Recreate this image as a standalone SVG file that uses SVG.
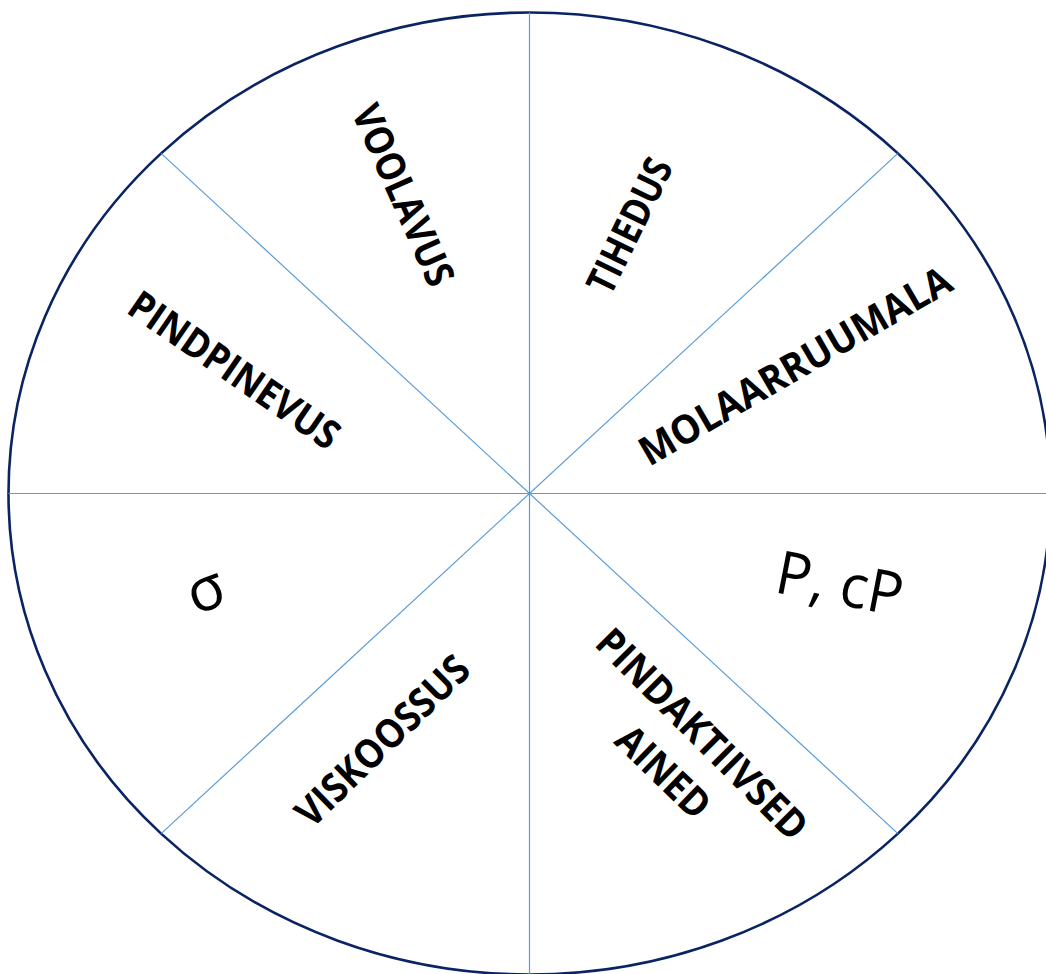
<svg xmlns="http://www.w3.org/2000/svg" width="1046" height="974" viewBox="0 0 1046 974">
<style>
.rim{fill:#ffffff;stroke:#0A2463;stroke-width:2.6}
.spoke{stroke:#5B9BD5;stroke-width:1.2;fill:none}
.lbl{font-family:"Open Sans","Liberation Sans",sans-serif;font-weight:bold;font-size:40px;fill:#000;text-anchor:middle}
.sym{font-family:"Open Sans","Liberation Sans",sans-serif;font-weight:normal;font-size:60px;fill:#000;text-anchor:middle}
</style>
<rect width="1046" height="974" fill="#ffffff"/>
<ellipse class="rim" cx="529.5" cy="493.5" rx="521" ry="481"/>
<g id="connectors">
<line class="spoke" x1="529.5" y1="12.5" x2="529.5" y2="974"/>
<line class="spoke" x1="8.5" y1="493.5" x2="1046" y2="493.5"/>
<line class="spoke" x1="161.1" y1="153.4" x2="897.9" y2="833.6"/>
<line class="spoke" x1="897.9" y1="153.4" x2="161.1" y2="833.6"/>
</g>
<g id="voolavus"><text class="lbl" transform="translate(403.5,195) rotate(66)" y="14.2" textLength="194" lengthAdjust="spacingAndGlyphs">VOOLAVUS</text></g>
<g id="tihedus"><text class="lbl" transform="translate(629.5,225.6) rotate(-64)" y="14.2" textLength="145" lengthAdjust="spacingAndGlyphs">TIHEDUS</text></g>
<g id="pindpinevus"><text class="lbl" transform="translate(234.3,370) rotate(34.5)" y="14.2" textLength="246" lengthAdjust="spacingAndGlyphs">PINDPINEVUS</text></g>
<g id="molaarruumala"><text class="lbl" transform="translate(795,365.6) rotate(-30.2)" y="14.2" textLength="354" lengthAdjust="spacingAndGlyphs">MOLAARRUUMALA</text></g>
<g id="pindaktiivsed">
<text class="lbl" transform="translate(702.4,734) rotate(45)" y="14.2" textLength="280" lengthAdjust="spacingAndGlyphs">PINDAKTIIVSED</text>
<text class="lbl" transform="translate(663.5,771.9) rotate(44)" y="14.2" textLength="114" lengthAdjust="spacingAndGlyphs">AINED</text>
</g>
<g id="viskoossus"><text class="lbl" transform="translate(382.3,740.7) rotate(-44.3)" y="14.2" textLength="225" lengthAdjust="spacingAndGlyphs">VISKOOSSUS</text></g>
<g id="p-cp"><text class="sym" transform="translate(840,583) rotate(11)" y="21.5" textLength="128" lengthAdjust="spacingAndGlyphs">P, cP</text></g>
<g id="sigma"><text class="sym" transform="translate(206.7,594) rotate(-20)" y="16">σ</text></g>
</svg>
